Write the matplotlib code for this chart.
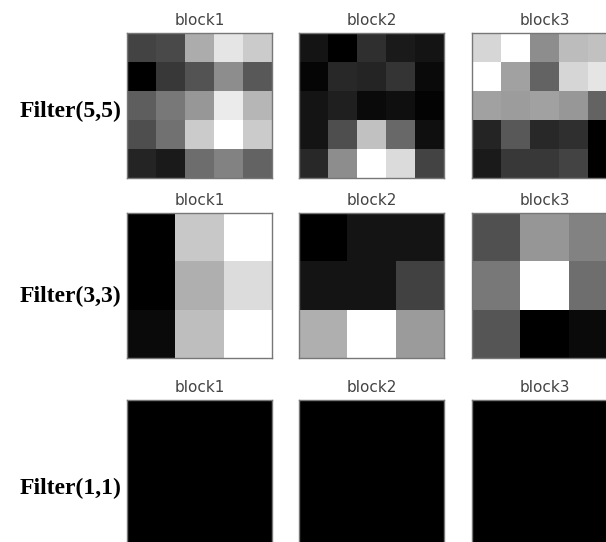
import numpy as np
import matplotlib
matplotlib.use("Agg")
import matplotlib.pyplot as plt

# gray levels (0 = black, 255 = white)
f5_block1 = [[70, 75, 170, 225, 200],
             [5, 60, 85, 140, 90],
             [95, 120, 150, 230, 180],
             [80, 115, 200, 250, 200],
             [40, 30, 110, 130, 100]]
f5_block2 = [[25, 5, 50, 30, 25],
             [10, 45, 40, 55, 15],
             [25, 35, 15, 20, 8],
             [25, 80, 190, 105, 20],
             [45, 140, 250, 215, 70]]
f5_block3 = [[210, 250, 140, 185, 190],
             [250, 160, 100, 210, 225],
             [160, 155, 160, 150, 100],
             [40, 90, 45, 50, 5],
             [30, 60, 60, 70, 5]]

f3_block1 = [[0, 200, 255],
             [0, 175, 220],
             [10, 190, 255]]
f3_block2 = [[0, 20, 20],
             [20, 20, 65],
             [175, 255, 155]]
f3_block3 = [[80, 150, 130],
             [120, 255, 110],
             [85, 0, 10]]

f1_block1 = [[0]]
f1_block2 = [[0]]
f1_block3 = [[0]]

row_labels = ["Filter(5,5)", "Filter(3,3)", "Filter(1,1)"]
col_titles = ["block1", "block2", "block3"]
grids = [[f5_block1, f5_block2, f5_block3],
         [f3_block1, f3_block2, f3_block3],
         [f1_block1, f1_block2, f1_block3]]

W, H = 606, 542
fig = plt.figure(figsize=(W / 100, H / 100), dpi=100)

lefts = [127, 299, 472]
tops = [33, 213, 400]
label_y = [111, 296, 488]
size = 145

for r in range(3):
    for c in range(3):
        ax = fig.add_axes([lefts[c] / W, 1 - (tops[r] + size) / H, size / W, size / H])
        a = np.array(grids[r][c], dtype=float)
        if a.size == 1:
            ax.imshow(a, cmap="gray", vmin=0, vmax=255)
        else:
            ax.imshow(a, cmap="gray")
        ax.set_xticks([])
        ax.set_yticks([])
        for s in ax.spines.values():
            s.set_color("#777777")
            s.set_linewidth(1.0)
        ax.set_title(col_titles[c], fontsize=11, color="#444444", pad=6)
    fig.text(121 / W, 1 - label_y[r] / H, row_labels[r],
             ha="right", va="center", fontsize=17, fontweight="bold",
             family="Liberation Serif")

fig.savefig("out.png", dpi=100)
